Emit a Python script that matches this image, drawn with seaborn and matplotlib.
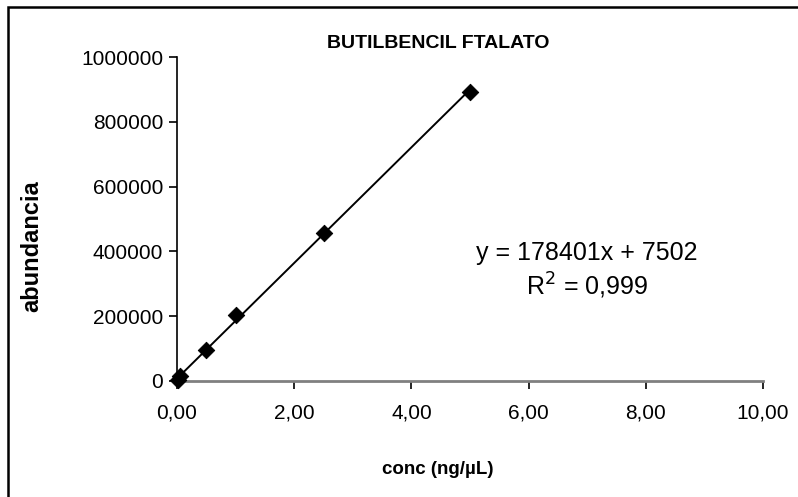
import matplotlib
matplotlib.use("Agg")
import matplotlib.pyplot as plt
import seaborn as sns
import numpy as np
import pandas as pd
from matplotlib.patches import Rectangle
from matplotlib.ticker import FuncFormatter

# Calibration data: concentration (ng/µL) vs. peak abundance
conc = [0.01, 0.05, 0.5, 1.0, 2.5, 5.0]
abundancia = [4000, 14000, 96000, 204000, 456000, 893000]

# Linear fit reported on the chart
slope = 178401
intercept = 7502
r2_text = "0,999"

x_ticks = [0, 2, 4, 6, 8, 10]
y_ticks = [0, 200000, 400000, 600000, 800000, 1000000]

title = "BUTILBENCIL FTALATO"
x_label = "conc (ng/µL)"
y_label = "abundancia"

sns.set_theme(style="ticks")
plt.rcParams["font.family"] = ["Liberation Sans", "DejaVu Sans"]
plt.rcParams["text.color"] = "black"

W, H = 798, 497
fig = plt.figure(figsize=(W / 100, H / 100), dpi=100)
ax = fig.add_axes([177 / W, 1 - 381 / H, (763 - 177) / W, (381 - 57) / H])

df = pd.DataFrame({"conc": conc, "abundancia": abundancia})
line_x = np.array([min(conc), max(conc)])
line_df = pd.DataFrame({"conc": line_x, "abundancia": slope * line_x + intercept})

sns.lineplot(data=line_df, x="conc", y="abundancia", ax=ax, color="black", lw=1.4)
sns.scatterplot(data=df, x="conc", y="abundancia", ax=ax, marker="D", s=70,
                color="black", edgecolor="black", zorder=3, clip_on=False)

ax.set_xlim(0, 10)
ax.set_ylim(0, 1000000)
ax.set_xticks(x_ticks)
ax.set_yticks(y_ticks)
ax.xaxis.set_major_formatter(FuncFormatter(lambda v, p: f"{v:.2f}".replace(".", ",")))
ax.yaxis.set_major_formatter(FuncFormatter(lambda v, p: f"{int(v)}"))

for side in ["top", "right"]:
    ax.spines[side].set_visible(False)
ax.spines["left"].set_color("black")
ax.spines["left"].set_linewidth(1.2)
ax.spines["bottom"].set_color("#808080")
ax.spines["bottom"].set_linewidth(2)

ax.tick_params(axis="x", direction="out", length=6, width=1.2, color="black",
               pad=10, labelsize=15, labelcolor="black")
ax.tick_params(axis="y", direction="out", length=6, width=1.2, color="black",
               pad=4, labelsize=15, labelcolor="black")
ax.set_xlabel("")
ax.set_ylabel("")

fig.text(438 / W, 1 - 43 / H, title, ha="center", va="center",
         fontsize=14, fontweight="bold", color="black")
fig.text(438 / W, 1 - 470 / H, x_label, ha="center", va="center",
         fontsize=13.5, fontweight="bold", color="black")
fig.text(32 / W, 1 - 246 / H, y_label, ha="center", va="center",
         fontsize=17, fontweight="bold", rotation=90, color="black")

fig.text(587 / W, 1 - 253 / H, f"y = {slope}x + {intercept}", ha="center",
         va="center", fontsize=18, color="black")
fig.text(587 / W, 1 - 286 / H, f"R$^2$ = {r2_text}", ha="center",
         va="center", fontsize=18, color="black")

# Outer frame of the chart area
fig.patches.append(Rectangle((8 / W, -0.1), 1.2, 1 - 7 / H + 0.1,
                             transform=fig.transFigure, fill=False,
                             edgecolor="black", lw=1.8))

fig.savefig("out.png", dpi=100, facecolor="white")
